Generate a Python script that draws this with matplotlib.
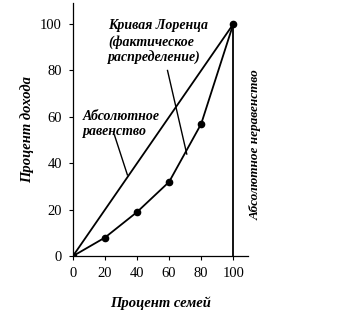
import matplotlib.pyplot as plt

# Данные кривой Лоренца
families = [0, 20, 40, 60, 80, 100]
income = [0, 8, 19, 32, 57, 100]

equality_x = [0, 100]
equality_y = [0, 100]

ticks = [0, 20, 40, 60, 80, 100]

plt.rcParams['font.family'] = ['Liberation Serif', 'DejaVu Serif']

fig = plt.figure(figsize=(3.59, 3.17), dpi=100)
ax = fig.add_axes([0.203, 0.192, 0.487, 0.798])

ax.plot(equality_x, equality_y, color='black', lw=1.3)
ax.plot(families, income, color='black', lw=1.3, marker='o', markersize=4.5)
ax.plot([100, 100], [0, 100], color='black', lw=1.3)

ax.set_xlim(0, 109)
ax.set_ylim(0, 109)
ax.set_xticks(ticks)
ax.set_yticks(ticks)
ax.tick_params(labelsize=10.5, length=3, width=0.8, pad=5)
ax.spines['top'].set_visible(False)
ax.spines['right'].set_visible(False)
for s in ['left', 'bottom']:
    ax.spines[s].set_linewidth(0.9)

ax.set_xlabel('Процент семей', style='italic', fontweight='bold', fontsize=10.5, labelpad=12)
ax.set_ylabel('Процент дохода', style='italic', fontweight='bold', fontsize=10.5, labelpad=4)

# Подписи
ax.text(22, 102, 'Кривая Лоренца\n(фактическое\nраспределение)', style='italic',
        fontweight='bold', fontsize=10, va='top', ha='left', linespacing=1.25)
ax.plot([59, 71], [80, 44], color='black', lw=1.0)

ax.text(6, 63, 'Абсолютное\nравенство', style='italic', fontweight='bold',
        fontsize=10, va='top', ha='left', linespacing=1.25)
ax.plot([26, 34], [52, 35], color='black', lw=1.0)

ax.text(114, 48, 'Абсолютное неравенство', style='italic', fontweight='bold',
        fontsize=9.5, rotation=90, va='center', ha='center', clip_on=False)

fig.savefig('out.png', dpi=100)
